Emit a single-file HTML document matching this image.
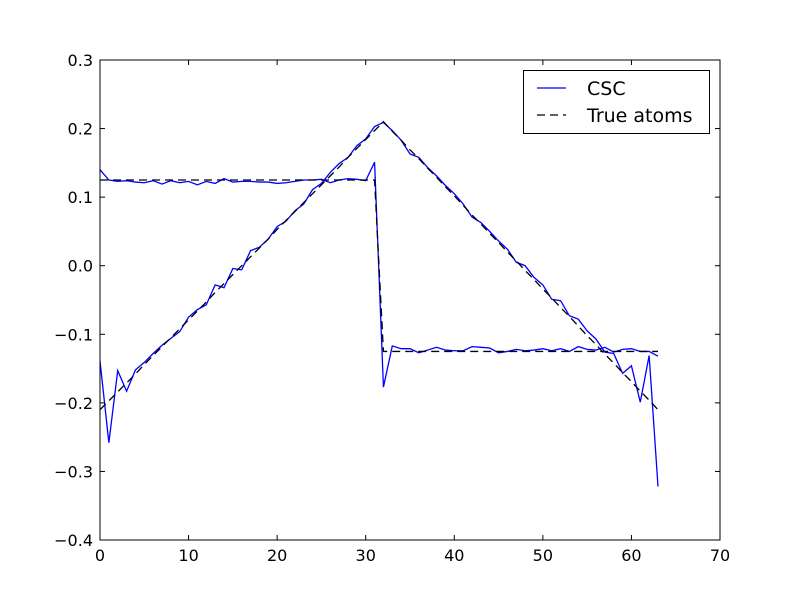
<!DOCTYPE html>
<html><head><meta charset="utf-8"><style>
html,body{margin:0;padding:0;background:#fff;}
svg{display:block;font-family:"DejaVu Sans","Liberation Sans",sans-serif;}
</style></head><body>
<svg id="chart" width="800" height="600" viewBox="0 0 800 600" xmlns="http://www.w3.org/2000/svg">
<rect x="0" y="0" width="800" height="600" fill="#fff"/>
<g id="plot"></g>
</svg>
<script>
const xTicks = [0,10,20,30,40,50,60,70];
const yTicks = [-0.4,-0.3,-0.2,-0.1,0.0,0.1,0.2,0.3];
const yTickLabels = ["\u22120.4","\u22120.3","\u22120.2","\u22120.1","0.0","0.1","0.2","0.3"];
const trueStep = [0.125,0.125,0.125,0.125,0.125,0.125,0.125,0.125,0.125,0.125,0.125,0.125,0.125,0.125,0.125,0.125,0.125,0.125,0.125,0.125,0.125,0.125,0.125,0.125,0.125,0.125,0.125,0.125,0.125,0.125,0.125,0.125,
-0.125,-0.125,-0.125,-0.125,-0.125,-0.125,-0.125,-0.125,-0.125,-0.125,-0.125,-0.125,-0.125,-0.125,-0.125,-0.125,-0.125,-0.125,-0.125,-0.125,-0.125,-0.125,-0.125,-0.125,-0.125,-0.125,-0.125,-0.125,-0.125,-0.125,-0.125,-0.125];
const trueTri = [-0.210,-0.197,-0.184,-0.171,-0.158,-0.144,-0.131,-0.118,-0.105,-0.092,-0.079,-0.066,-0.053,-0.039,-0.026,-0.013,0.000,0.013,0.026,0.039,0.053,0.066,0.079,0.092,0.105,0.118,0.131,0.144,0.158,0.171,0.184,0.197,0.210,0.196,0.183,0.169,0.156,0.142,0.129,0.115,0.102,0.088,0.074,0.061,0.047,0.034,0.020,0.007,-0.007,-0.020,-0.034,-0.047,-0.061,-0.074,-0.088,-0.102,-0.115,-0.129,-0.142,-0.156,-0.169,-0.183,-0.196,-0.210];
const cscStep = [0.140,0.125,0.123,0.124,0.122,0.121,0.124,0.119,0.124,0.121,0.123,0.118,0.123,0.120,0.127,0.122,0.123,0.123,0.122,0.122,0.120,0.121,0.123,0.125,0.125,0.126,0.121,0.125,0.127,0.126,0.124,0.151,
-0.177,-0.117,-0.121,-0.121,-0.127,-0.123,-0.119,-0.123,-0.124,-0.124,-0.118,-0.119,-0.120,-0.127,-0.125,-0.122,-0.124,-0.123,-0.121,-0.124,-0.121,-0.125,-0.118,-0.122,-0.123,-0.119,-0.126,-0.122,-0.121,-0.125,-0.125,-0.132];
const cscTri = [-0.139,-0.258,-0.153,-0.183,-0.152,-0.141,-0.128,-0.116,-0.106,-0.096,-0.075,-0.064,-0.057,-0.028,-0.032,-0.004,-0.006,0.022,0.027,0.039,0.057,0.065,0.080,0.090,0.111,0.120,0.136,0.149,0.158,0.175,0.185,0.203,0.209,0.197,0.183,0.163,0.158,0.143,0.131,0.117,0.105,0.090,0.071,0.063,0.050,0.036,0.024,0.005,0.000,-0.017,-0.028,-0.049,-0.051,-0.073,-0.078,-0.095,-0.107,-0.126,-0.128,-0.157,-0.146,-0.199,-0.131,-0.322];

const L=100,R=720,T=60,B=540;
const xMin=0,xMax=70,yMin=-0.4,yMax=0.3;
function sx(v){return L+(v-xMin)/(xMax-xMin)*(R-L);}
function sy(v){return B-(v-yMin)/(yMax-yMin)*(B-T);}
const NS="http://www.w3.org/2000/svg";
const g=document.getElementById('plot');
function mk(tag,attrs,parent){const e=document.createElementNS(NS,tag);for(const k in attrs)e.setAttribute(k,attrs[k]);(parent||g).appendChild(e);return e;}
function pathOf(arr){return arr.map((v,i)=>(i?'L':'M')+sx(i).toFixed(2)+','+sy(v).toFixed(2)).join(' ');}

const clip=mk('clipPath',{id:'clip'});mk('rect',{x:L,y:T,width:R-L,height:B-T},clip);

let p;
p=mk('path',{d:pathOf(cscStep),fill:'none',stroke:'#0000ff','stroke-width':1.3,'clip-path':'url(#clip)'});


p=mk('path',{d:pathOf(trueStep),fill:'none',stroke:'#000','stroke-width':1.3,'stroke-dasharray':'8,5','clip-path':'url(#clip)'});


p=mk('path',{d:pathOf(cscTri),fill:'none',stroke:'#0000ff','stroke-width':1.3,'clip-path':'url(#clip)'});


p=mk('path',{d:pathOf(trueTri),fill:'none',stroke:'#000','stroke-width':1.3,'stroke-dasharray':'8,5','clip-path':'url(#clip)'});



xTicks.forEach(v=>{
  const x=sx(v);
  const t1=mk('line',{x1:x,y1:B,x2:x,y2:B-5,stroke:'#000','stroke-width':1});
  
  
  mk('line',{x1:x,y1:T,x2:x,y2:T+5,stroke:'#000','stroke-width':1});
  const t=mk('text',{x:x,y:B+21,'text-anchor':'middle','font-size':16,fill:'#000'});
  t.textContent=String(v);
  
  
});
yTicks.forEach((v,i)=>{
  const y=sy(v);
  const t1=mk('line',{x1:L,y1:y,x2:L+5,y2:y,stroke:'#000','stroke-width':1});
  
  
  mk('line',{x1:R,y1:y,x2:R-5,y2:y,stroke:'#000','stroke-width':1});
  const t=mk('text',{x:L-7,y:y+6,'text-anchor':'end','font-size':16,fill:'#000'});
  t.textContent=yTickLabels[i];
  
  
});
const frame=mk('rect',{x:L,y:T,width:R-L,height:B-T,fill:'none',stroke:'#000','stroke-width':1});



const lg=mk('g',{});


mk('rect',{x:523.5,y:70.5,width:186,height:63,fill:'#fff',stroke:'#000','stroke-width':1},lg);
mk('line',{x1:537,y1:88,x2:566,y2:88,stroke:'#0000ff','stroke-width':1.3},lg);
let lt=mk('text',{x:587,y:95,'font-size':19,fill:'#000'},lg);lt.textContent='CSC';


mk('line',{x1:537,y1:115,x2:566,y2:115,stroke:'#000','stroke-width':1.3,'stroke-dasharray':'8,5'},lg);
lt=mk('text',{x:587,y:122,'font-size':19,fill:'#000'},lg);lt.textContent='True atoms';


</script>
</body></html>
